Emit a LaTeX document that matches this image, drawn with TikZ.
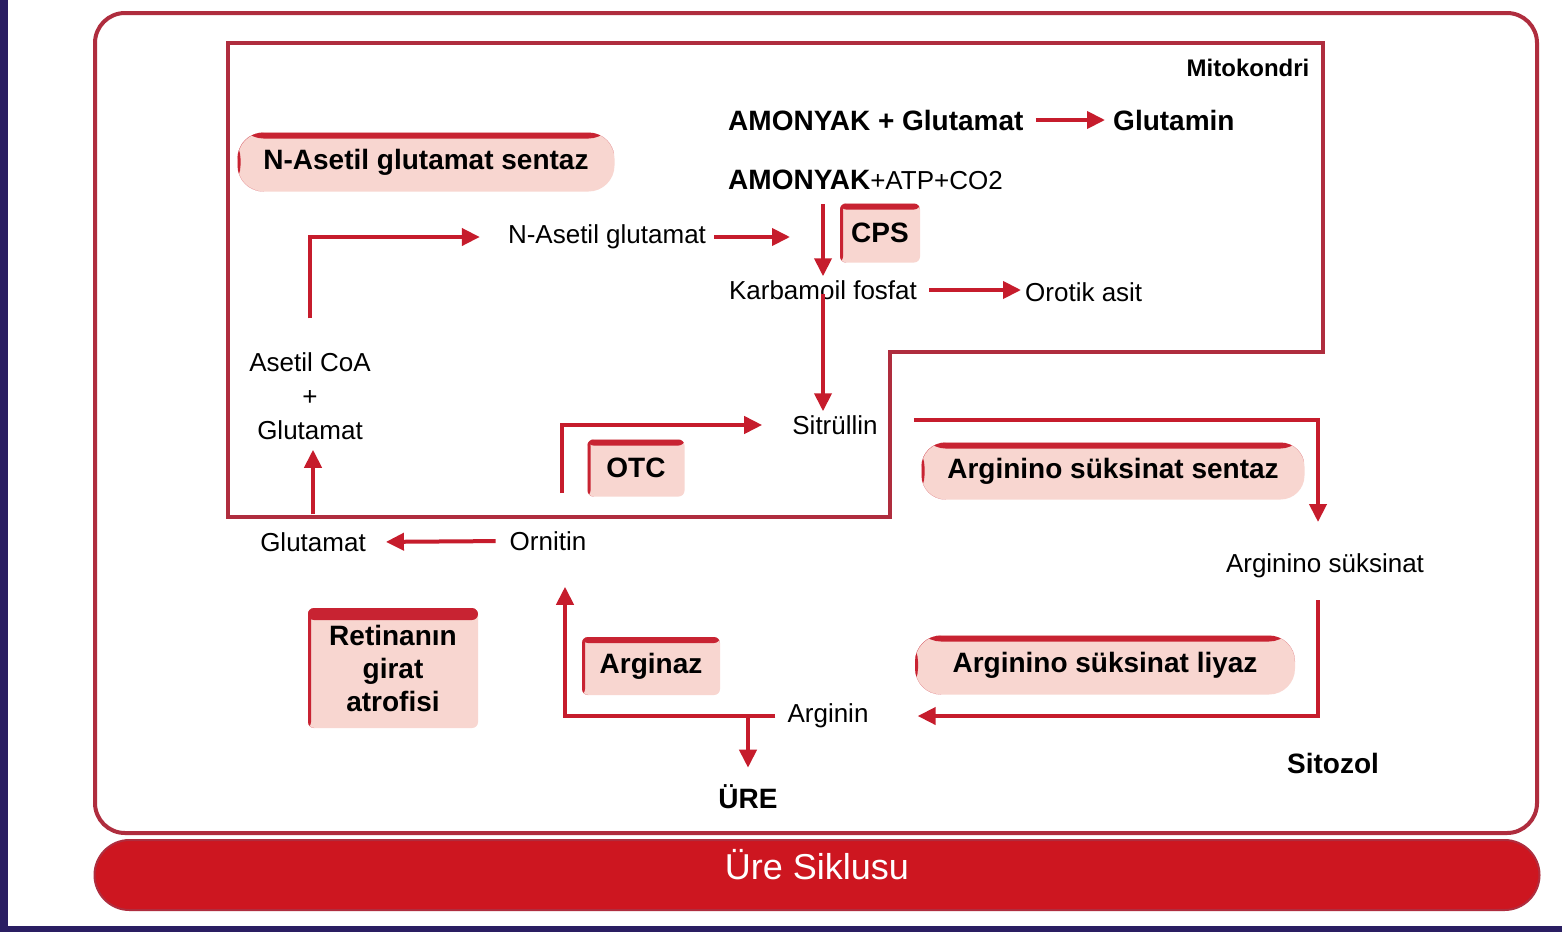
\documentclass[tikz,border=0pt]{standalone}
\usepackage{fontspec}
\setmainfont{Liberation Sans}
\usetikzlibrary{arrows.meta}
\usetikzlibrary{positioning}

\definecolor{linered}{RGB}{175,45,62}
\definecolor{arrowred}{RGB}{198,28,44}
\definecolor{boxpink}{RGB}{248,214,208}
\definecolor{boxred}{RGB}{200,35,50}
\definecolor{bannerred}{RGB}{205,22,32}
\definecolor{navy}{RGB}{42,30,98}

\newcommand\cyclereg{\fontsize{26}{30}\selectfont}
\newcommand\cyclebold{\fontsize{28}{33}\selectfont\bfseries}

\tikzset{
  > = {Triangle[length=18pt, width=17pt]},
  flow/.style = {->, draw=arrowred, line width=4pt},
  wall/.style = {draw=linered, line width=4pt},
  mol/.style = {font=\cyclereg, inner sep=4pt},
  molbold/.style = {font=\cyclebold, inner sep=4pt},
  enzyme/.style n args = {4}{fill=boxpink, font=\cyclebold, align=center,
    minimum width=#1, minimum height=#2, rounded corners=#3, inner sep=0pt,
    path picture={
      \fill[boxred] (path picture bounding box.north west)
        rectangle ([yshift=-#4]path picture bounding box.north east);
      \fill[boxred] (path picture bounding box.north west)
        rectangle ([xshift=3pt]path picture bounding box.south west);
    }},
  banner/.style = {fill=bannerred, draw=linered, line width=2pt, rounded corners=35pt,
    minimum width=1445pt, minimum height=70pt, text=white,
    text height=33pt, text depth=25pt,
    font=\fontsize{36}{40}\selectfont},
}

\begin{document}
\begin{tikzpicture}[x=1pt, y=-1pt]
  \useasboundingbox (0,0) rectangle (1562,932);
  \fill[white] (0,0) rectangle (1562,932);
  \fill[navy] (0,0) rectangle (8,932);
  \fill[navy] (0,926) rectangle (1562,932);

  % frame, mitochondria and title
  \draw[wall, rounded corners=30pt] (95,13) rectangle (1537,833);
  \draw[wall] (228,43) -- (1323,43) -- (1323,352) -- (890,352)
    -- (890,517) -- (228,517) -- cycle;
  \node[banner] (title) at (817,875) {Üre Siklusu};
  \node[molbold, font=\fontsize{24}{28}\selectfont\bfseries] (mito) at (1248,68) {Mitokondri};
  \node[molbold] (sitozol) at (1333,763) {Sitozol};

  % enzymes
  \foreach \n/\x/\y/\w/\h/\r/\b/\t in {
      nags/426/162/377/59/26/6/N-Asetil glutamat sentaz,
      cps/880/233/80/59/6/6/CPS,
      otc/636/468/97/57/6/6/OTC,
      ass/1113/471/383/57/24/6/Arginino süksinat sentaz,
      asl/1105/665/380/59/26/6/Arginino süksinat liyaz,
      arginaz/651/666/138/58/6/6/Arginaz,
      retina/393/668/170/120/6/12/{Retinanın\\girat\\atrofisi}} {
    \node[enzyme={\w pt}{\h pt}{\r pt}{\b pt}] (\n) at (\x,\y) {\t};
  }

  % metabolites
  \node[molbold, anchor=west] (amon1) at (724,120) {AMONYAK + Glutamat};
  \node[molbold, anchor=west] (glutamin) at (1109,120) {Glutamin};
  \node[mol, anchor=west] (amon2) at (724,180) {{\cyclebold AMONYAK}+ATP+CO2};
  \node[mol] (nag) at (607,237) {N-Asetil glutamat};
  \node[mol] (kf) at (823,290) {Karbamoil fosfat};
  \node[mol, anchor=west] (orotik) at (1021,292) {Orotik asit};
  \node[mol] (sit) at (835,425) {Sitrüllin};
  \node[mol] (asuks) at (1325,566) {Arginino süksinat};
  \node[mol] (arg) at (828,716) {Arginin};
  \node[molbold] (ure) at (748,797) {ÜRE};
  \node[mol] (orn) at (548,541) {Ornitin};
  \node[mol] (glu) at (313,542) {Glutamat};
  \node[mol, align=center, font=\fontsize{26}{34}\selectfont] (acoa) at (310,396)
    {Asetil CoA\\+\\Glutamat};

  % free ends
  \coordinate (nag-end) at (790,237);
  \coordinate (orn-up) at (562,493);
  \coordinate (asuks-in) at (1318,522);

  % arrows
  \draw[flow, shorten <=8pt, shorten >=4pt] (amon1.east) -- (glutamin.west);
  \draw[flow, shorten <=4pt] (nag.east) -- (nag-end);
  \draw[flow, shorten <=10pt] (amon2.south -| kf.north) -- (kf.north);
  \draw[flow, shorten <=8pt] (kf.east) -- (kf.east -| orotik.west);
  \draw[flow, shorten <=-10pt] (kf.south) -- (kf.south |- sit.north);
  \draw[flow, shorten <=30pt, shorten >=24pt] (acoa.north) |- (nag.west);
  \draw[flow, shorten <=14pt, shorten >=6pt] (glu.north) -- (glu.north |- acoa.south);
  \draw[flow, shorten <=10pt, shorten >=16pt] (orn.west) -- (glu.east);
  \draw[flow, shorten >=26pt] (orn-up) |- (sit.west);
  \draw[flow, shorten <=32pt] ([yshift=5pt]sit.east) -| (asuks-in);
  \draw[flow, shorten <=18pt, shorten >=45pt] ([xshift=-7pt]asuks.south) |- (arg.east);
  \draw[flow, shorten <=8pt, shorten >=32pt] (arg.west) -| ([xshift=17pt]orn.south);
  \draw[flow, shorten >=13pt] (ure.north |- arg.west) -- (ure.north);
\end{tikzpicture}
\end{document}
